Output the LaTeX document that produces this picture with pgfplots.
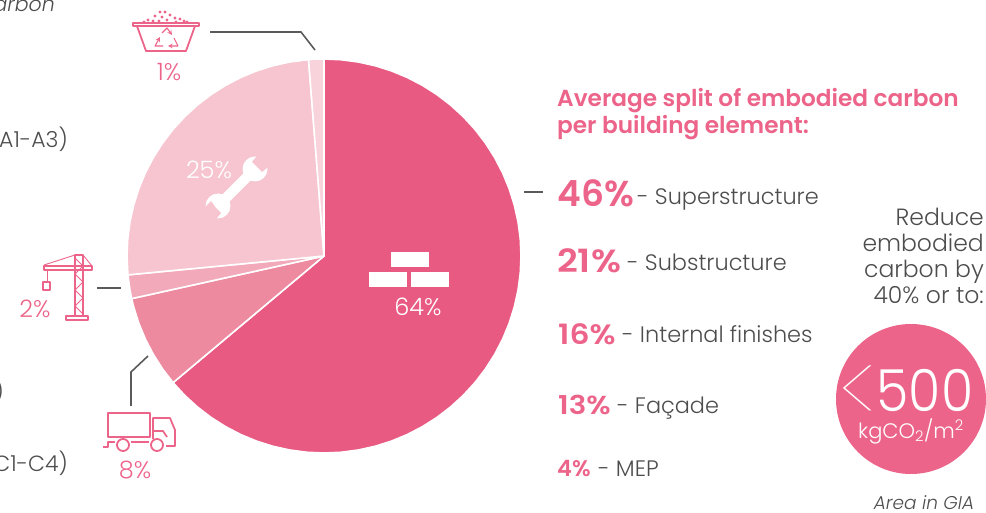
\documentclass[border=0pt]{standalone}
\usepackage{pgfplots}
\pgfplotsset{compat=1.18}
\usepackage{fontspec}
\setmainfont{Poppins Light}[BoldFont=Poppins SemiBold,ItalicFont=Poppins Light Italic]
\newfontfamily\thinfont{Poppins Thin}
\definecolor{seg64}{HTML}{E85A82}
\definecolor{seg8}{HTML}{ED8AA0}
\definecolor{seg2}{HTML}{F2A9BA}
\definecolor{seg25}{HTML}{F6C5D0}
\definecolor{seg1}{HTML}{F8D3DC}
\definecolor{accent}{HTML}{EC6489}
\definecolor{txt}{HTML}{4D4D4D}
\definecolor{lead}{HTML}{5A5A5A}
\begin{document}
\begin{tikzpicture}
\useasboundingbox (0,0) rectangle (986pt,512pt);
\clip (0,0) rectangle (986pt,512pt);
\begin{axis}[
    at={(0,0)},anchor=south west,
    x=1pt,y=1pt,
    xmin=-324,xmax=662,ymin=-256,ymax=256,
    hide axis,clip=false,
    data cs=polar,
]
% pie wedges: angle, radius (angle = 90 - share*3.6)
\addplot[fill=seg64,draw=white,line width=1.6pt,line join=round] coordinates {(0,0) (90,197) (85,197) (80,197) (75,197) (70,197) (65,197) (60,197) (55,197) (50,197) (45,197) (40,197) (35,197) (30,197) (25,197) (20,197) (15,197) (10,197) (5,197) (0,197) (-5,197) (-10,197) (-15,197) (-20,197) (-25,197) (-30,197) (-35,197) (-40,197) (-45,197) (-50,197) (-55,197) (-60,197) (-65,197) (-70,197) (-75,197) (-80,197) (-85,197) (-90,197) (-95,197) (-100,197) (-105,197) (-110,197) (-115,197) (-120,197) (-125,197) (-130,197) (-135,197) (-140,197)} -- cycle;
\addplot[fill=seg8,draw=white,line width=1.6pt,line join=round] coordinates {(0,0) (220,197) (215,197) (210,197) (205,197) (200,197) (195,197) (192.5,197)} -- cycle;
\addplot[fill=seg2,draw=white,line width=1.6pt,line join=round] coordinates {(0,0) (192.5,197) (190,197) (185.5,197)} -- cycle;
\addplot[fill=seg25,draw=white,line width=1.6pt,line join=round] coordinates {(0,0) (185.5,197) (180,197) (175,197) (170,197) (165,197) (160,197) (155,197) (150,197) (145,197) (140,197) (135,197) (130,197) (125,197) (120,197) (115,197) (110,197) (105,197) (100,197) (94.5,197)} -- cycle;
\addplot[fill=seg1,draw=white,line width=1.6pt,line join=round] coordinates {(0,0) (94.5,197) (92,197) (90,197)} -- cycle;
\end{axis}
\begin{scope}[x=1pt,y=-1pt,shift={(0,512pt)}]
% leader lines
\draw[lead,line width=1.6pt] (210,32) -- (301,32) -- (315,50);
\draw[lead,line width=1.6pt] (97,288) -- (121,288);
\draw[lead,line width=1.6pt] (131,406) -- (131,372) -- (148,356);
\draw[lead,line width=1.6pt] (524,192) -- (543,192);
% clipped texts on the left
\tikzset{tl/.style={anchor=base east,inner sep=0,text=txt,font=\fontsize{22}{24}\selectfont}}
\node[tl,font=\fontsize{20.5}{24}\selectfont] at (55,12) {\itshape arbon};
\node[tl] at (68,148) {A1-A3)};
\node[tl] at (4,400) {)};
\node[tl] at (68,471) {C1-C4)};
% heading
\tikzset{hd/.style={anchor=base west,inner sep=0,text=accent,font=\fontsize{23.2}{24}\selectfont\bfseries}}
\node[hd] at (557,107) {Average split of embodied carbon};
\node[hd] at (557,134) {per building element:};
% list
\tikzset{
  pc/.style={anchor=base west,inner sep=0,text=accent},
  ls/.style={anchor=base west,inner sep=0,text=txt,font=\fontsize{22.4}{24}\selectfont},
  pl/.style={anchor=base,inner sep=0,font=\fontsize{24}{24}\selectfont},
  rr/.style={anchor=base east,inner sep=0,text=txt,font=\fontsize{23.5}{24}\selectfont}}
\node[pc,font=\fontsize{36}{36}\selectfont\bfseries] at (557,207) {46\%};
\node[ls] at (637,205) {- Superstructure};
\node[pc,font=\fontsize{32}{32}\selectfont\bfseries] at (557,273) {\scalebox{1.13}[1]{21\%}};
\node[ls] at (627,271) {- Substructure};
\node[pc,font=\fontsize{28}{28}\selectfont\bfseries] at (558,345) {\scalebox{1.12}[1]{16\%}};
\node[ls] at (622,343) {- Internal finishes};
\node[pc,font=\fontsize{26}{26}\selectfont\bfseries] at (558,414) {\scalebox{1.13}[1]{13\%}};
\node[ls] at (617,413) {- Façade};
\node[pc,font=\fontsize{22.5}{22}\selectfont\bfseries] at (557,476) {4\%};
\node[ls] at (598,476) {- MEP};
% right block
\node[rr] at (984,226) {Reduce};
\node[rr] at (984,252) {embodied};
\node[rr] at (984,278) {carbon by};
\node[rr] at (984,304) {40\% or to:};
\fill[accent] (911,399) circle (75);
\node[anchor=base west,inner sep=0,text=white,font=\thinfont\fontsize{95}{95}\selectfont] at (839,424) {<};
\node[anchor=base,inner sep=0,text=white,font=\fontsize{58}{58}\selectfont] at (925,412) {\scalebox{.9}[1]{500}};
\node[anchor=base,inner sep=0,text=white,font=\fontsize{21}{21}\selectfont] at (911,438) {kgCO\textsubscript{2}/m\textsuperscript{2}};
\node[anchor=base,inner sep=0,text=txt,font=\fontsize{18.5}{18}\selectfont\itshape] at (924,509) {Area in GIA};
% percent labels
\node[pl,text=accent] at (169,81) {1\%};
\node[pl,text=accent] at (35,318) {2\%};
\node[pl,text=accent] at (135,478) {8\%};
\node[pl,text=white] at (209,179) {25\%};
\node[pl,text=white] at (418,316) {64\%};
% bricks
\fill[white] (391,252) rectangle (429,267);
\fill[white] (369,272) rectangle (407,287);
\fill[white] (411,272) rectangle (449,287);
% wrench
\draw[white,line width=10pt] (220,204) -- (254,170);
\fill[white] (255,169) circle (12.5);
\fill[white] (218,206) circle (12.5);
\fill[seg25] (257,167) -- (252,162) -- (260,152) -- (272,164) -- (262,172) -- cycle;
\fill[seg25] (216,208) -- (221,213) -- (213,223) -- (201,211) -- (211,201) -- cycle;
% bin icon
\begin{scope}[accent,line width=1.8pt,line join=round]
\draw (133,23) rectangle (199,26);
\draw (137,26) -- (146,51) -- (186,51) -- (195,26);
\draw[line width=1.1pt,->,>=stealth] (162,33) -- (167,28) -- (172,35);
\draw[line width=1.1pt,->,>=stealth] (174,38) -- (178,46) -- (168,46);
\draw[line width=1.1pt,->,>=stealth] (163,46) -- (155,46) -- (160,37);
\fill (160,12) circle (1.6) (165,12) circle (1.6) (155,16) circle (1.6) (162,17) circle (1.6) (170,15) circle (1.6) (175,18) circle (1.6) (180,19) circle (1.6) (148,20) circle (1.6) (153,21) circle (1.6) (167,20) circle (1.6) (184,21) circle (1.6) (176,22) circle (1.6) (144,22) circle (1.6) (159,21) circle (1.6) (187,22) circle (1.6);
\end{scope}
% crane icon
\begin{scope}[accent,line width=1.7pt,line join=round]
\draw (75,255) rectangle (83,316);
\draw (66,316) rectangle (88,320);
\draw (44,266) rectangle (92,270);
\draw[line width=.9pt] (44,265) -- (75,255) (83,255) -- (92,266);
\draw[line width=.9pt] (47,270) -- (47,282);
\draw (43,282) rectangle (50,290);
\draw[line width=1pt] (75,258) -- (83,266) -- (75,274) -- (83,282) -- (75,290) -- (83,298) -- (75,306) -- (83,314);
\end{scope}
% truck icon
\begin{scope}[accent,line width=1.8pt,line join=round]
\draw (108,413) rectangle (150,437);
\draw (153,439) -- (153,418) -- (170,418) -- (175,430) -- (175,446) -- (166,446);
\draw (153,431) -- (163,431) -- (167,437);
\draw (123,445) circle (6);
\draw (157,445) circle (6);
\draw (103,447) -- (108,447) -- (108,442) -- (115,442);
\draw (131,442) -- (149,442);
\end{scope}
\end{scope}
\end{tikzpicture}
\end{document}
